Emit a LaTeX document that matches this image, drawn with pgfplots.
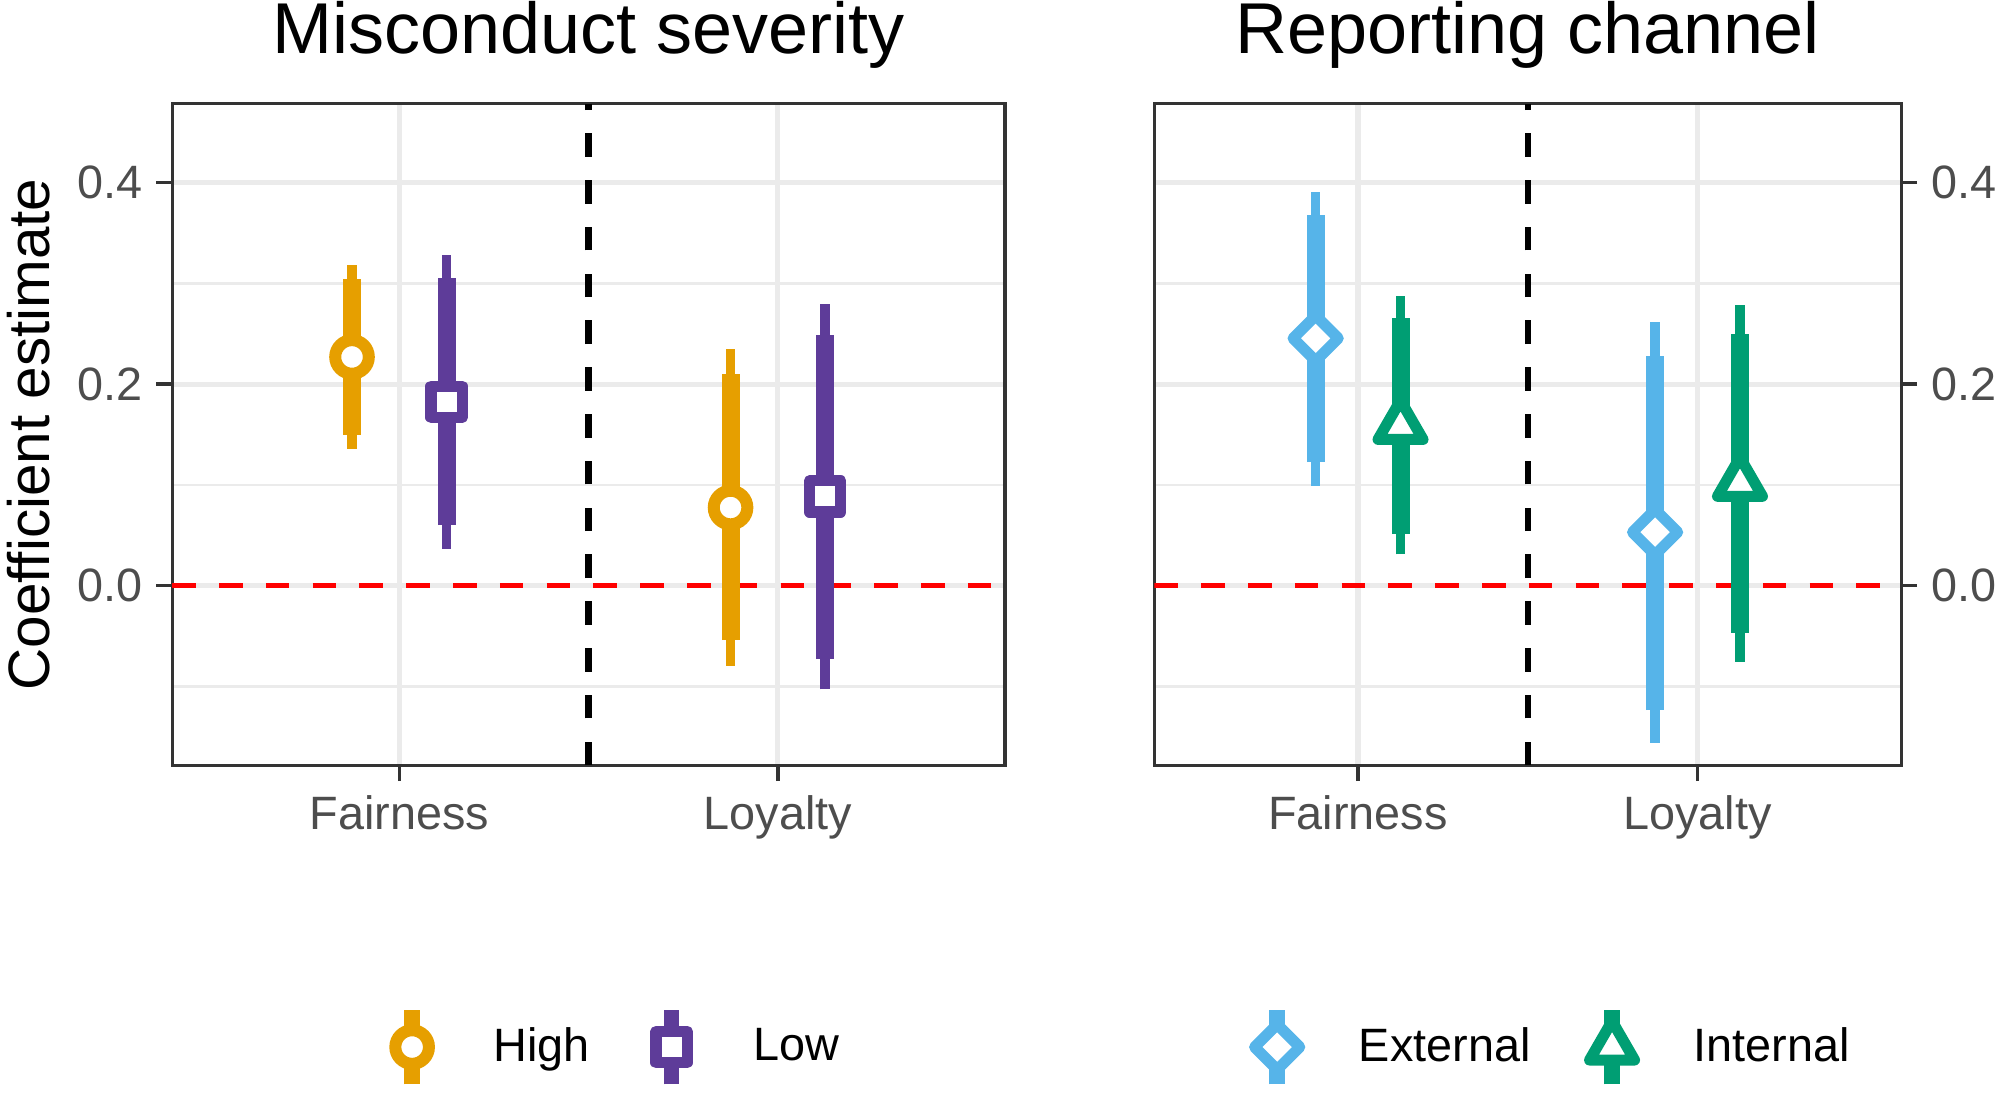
\documentclass[border=0pt]{standalone}
\usepackage{pgfplots}
\pgfplotsset{compat=1.18}
\usepackage{fontspec}
\setmainfont{Liberation Sans}
\definecolor{hi}{HTML}{E69F00}
\definecolor{lo}{HTML}{5E3C99}
\definecolor{ext}{HTML}{56B4E9}
\definecolor{int}{HTML}{009E73}
\definecolor{gridc}{HTML}{EBEBEB}
\definecolor{framec}{HTML}{333333}
\definecolor{labc}{HTML}{4D4D4D}

\pgfplotsset{
  legimg/.style={legend image code/.code={
      \draw[draw=#1, line width=3.9pt] (0pt,-9.3pt) -- (0pt,9.3pt);
      \path[draw=none, fill=none] (-7pt,-9.3pt) rectangle (7pt,9.3pt);
      \draw[##1] plot coordinates {(0pt,0pt)};
  }},
  panel/.style={
    scale only axis, height=165.4pt,
    xmin=0.4, xmax=2.6, ymin=-0.1783, ymax=0.4785,
    xtick={1,2}, xticklabels={Fairness,Loyalty},
    ytick={0,0.2,0.4}, yticklabels={0.0,0.2,0.4},
    minor ytick={-0.1,0.1,0.3},
    grid=both,
    major grid style={draw=gridc, line width=1.3pt},
    minor grid style={draw=gridc, line width=0.65pt},
    tick align=outside, major tick length=4pt, minor tick length=0pt,
    tick style={draw=framec, line width=0.9pt},
    axis line style={draw=framec, line width=0.8pt},
    xtick pos=bottom,
    ticklabel style={font=\fontsize{11.7}{14}\selectfont, text=labc},
    xticklabel style={anchor=base, yshift=-12pt},
    title style={at={(0.5,1)}, anchor=base, yshift=6.4pt, font=\fontsize{18}{21.6}\selectfont},
    legend columns=2,
    legend style={draw=none, fill=none, anchor=center, column sep=13.4pt,
      font=\fontsize{11.7}{14}\selectfont, nodes={inner sep=0pt}},
    legend cell align=left,
  },
  ebthin/.style={forget plot, line width=2.4pt},
  ebthick/.style={forget plot, line width=4.5pt},
}

\begin{document}
\begin{tikzpicture}
\useasboundingbox (0,0) rectangle (500pt,-273pt);

% ---------------- Left panel: Misconduct severity ----------------
\begin{axis}[panel, width=208.2pt, at={(43.05pt,-191.3pt)}, anchor=south west,
  title={Misconduct severity}, ytick pos=left,
  ylabel={Coefficient estimate},
  ylabel style={at={(axis description cs:-0.147,0.5)}, anchor=base, font=\fontsize{14.6}{17}\selectfont},
  legend style={at={(0.5276,-0.426)}}]
\addplot[forget plot, red, line width=1.4pt, dash pattern=on 5.9pt off 5.8pt] coordinates {(0.4,0) (2.6,0)};
\addplot[forget plot, black, line width=1.6pt, dash pattern=on 5.9pt off 5.8pt] coordinates {(1.5,-0.1783) (1.5,0.4785)};
% High
\addplot[ebthin, hi] coordinates {(0.875,0.136) (0.875,0.318)};
\addplot[ebthick, hi] coordinates {(0.875,0.150) (0.875,0.304)};
\addplot[ebthin, hi] coordinates {(1.875,-0.0795) (1.875,0.235)};
\addplot[ebthick, hi] coordinates {(1.875,-0.054) (1.875,0.210)};
% Low
\addplot[ebthin, lo] coordinates {(1.125,0.0365) (1.125,0.328)};
\addplot[ebthick, lo] coordinates {(1.125,0.060) (1.125,0.305)};
\addplot[ebthin, lo] coordinates {(2.125,-0.103) (2.125,0.2795)};
\addplot[ebthick, lo] coordinates {(2.125,-0.073) (2.125,0.249)};
\addplot[only marks, mark=*, mark size=4.2pt, mark options={draw=hi, fill=white, line width=3pt}, legimg=hi]
  coordinates {(0.875,0.227) (1.875,0.0775)};
\addlegendentry{High}
\addplot[only marks, mark=square*, mark size=3.9pt, mark options={draw=lo, fill=white, line width=2.8pt, line join=round}, legimg=lo]
  coordinates {(1.125,0.1825) (2.125,0.0885)};
\addlegendentry{Low}
\end{axis}

% ---------------- Right panel: Reporting channel ----------------
\begin{axis}[panel, width=186.7pt, at={(288.6pt,-191.3pt)}, anchor=south west,
  title={Reporting channel}, ytick pos=right, yticklabel pos=right,
  legend style={at={(0.529,-0.426)}}]
\addplot[forget plot, red, line width=1.4pt, dash pattern=on 5.9pt off 5.8pt] coordinates {(0.4,0) (2.6,0)};
\addplot[forget plot, black, line width=1.6pt, dash pattern=on 5.9pt off 5.8pt] coordinates {(1.5,-0.1783) (1.5,0.4785)};
% External
\addplot[ebthin, ext] coordinates {(0.875,0.099) (0.875,0.391)};
\addplot[ebthick, ext] coordinates {(0.875,0.1225) (0.875,0.3676)};
\addplot[ebthin, ext] coordinates {(1.875,-0.156) (1.875,0.262)};
\addplot[ebthick, ext] coordinates {(1.875,-0.1235) (1.875,0.228)};
% Internal
\addplot[ebthin, int] coordinates {(1.125,0.031) (1.125,0.2876)};
\addplot[ebthick, int] coordinates {(1.125,0.051) (1.125,0.266)};
\addplot[ebthin, int] coordinates {(2.125,-0.0754) (2.125,0.279)};
\addplot[ebthick, int] coordinates {(2.125,-0.0466) (2.125,0.2496)};
\addplot[only marks, mark=square*, mark size=4.0pt, mark options={rotate=45, draw=ext, fill=white, line width=2.75pt, line join=round}, legimg=ext]
  coordinates {(0.875,0.2455) (1.875,0.053)};
\addlegendentry{External}
\addplot[only marks, mark=triangle*, mark size=6.5pt, mark options={draw=int, fill=white, line width=2.75pt, line join=round}, legimg=int]
  coordinates {(1.125,0.158) (2.125,0.1015)};
\addlegendentry{Internal}
\end{axis}
\end{tikzpicture}
\end{document}
